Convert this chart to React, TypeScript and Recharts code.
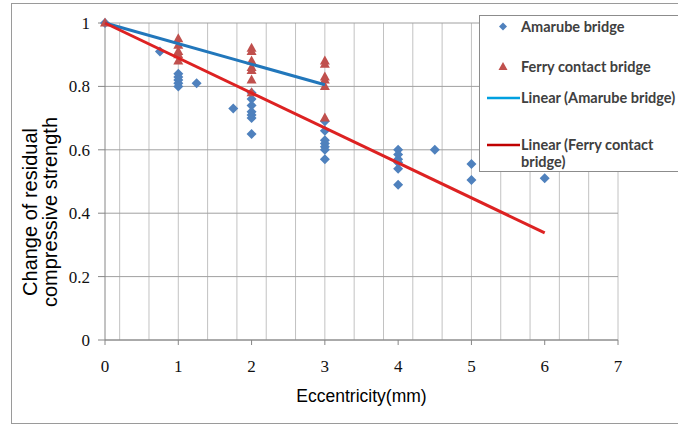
import React from "react";
import { ScatterChart, Scatter, XAxis, YAxis, ZAxis, CartesianGrid, Legend, Label } from "recharts";

// Amarube bridge measurements (eccentricity in mm, relative strength)
const amarubeEcc = [0, 0.75, 1, 1, 1, 1, 1, 1.25, 1.75, 2, 2, 2, 2, 2, 2, 2, 3, 3, 3, 3, 3, 3, 3, 4, 4, 4, 4, 4, 4, 4.5, 5, 5, 6];
const amarubeStrength = [
  1.0, 0.91, 0.84, 0.83, 0.82, 0.81, 0.8, 0.81, 0.73, 0.78, 0.76, 0.74, 0.72, 0.71, 0.7, 0.65, 0.69, 0.66, 0.63, 0.62,
  0.61, 0.6, 0.57, 0.6, 0.585, 0.57, 0.56, 0.54, 0.49, 0.6, 0.555, 0.505, 0.51,
];

// Ferry contact bridge measurements
const ferryEcc = [0, 1, 1, 1, 1, 1, 2, 2, 2, 2, 2, 2, 2, 3, 3, 3, 3, 3, 3];
const ferryStrength = [1.0, 0.95, 0.93, 0.91, 0.9, 0.88, 0.92, 0.91, 0.88, 0.86, 0.85, 0.82, 0.78, 0.88, 0.87, 0.83, 0.82, 0.8, 0.7];

// trendline end points as drawn in the picture
const amarubeTrendEcc = [0, 3];
const amarubeTrendStrength = [1.0, 0.805];
const ferryTrendEcc = [0, 6];
const ferryTrendStrength = [1.0, 0.338];

const xTicks = [0, 1, 2, 3, 4, 5, 6, 7];
const yTicks = [0, 0.2, 0.4, 0.6, 0.8, 1];
const xGridValues = [
  0.2, 0.4, 0.6, 0.8, 1, 1.2, 1.4, 1.6, 1.8, 2, 2.2, 2.4, 2.6, 2.8, 3, 3.2, 3.4, 3.6, 3.8, 4, 4.2, 4.4, 4.6, 4.8, 5,
  5.2, 5.4, 5.6, 5.8, 6, 6.2, 6.4, 6.6, 6.8, 7,
];

const toPoints = (xs: number[], ys: number[]) => xs.map((x, i) => ({ x, y: ys[i] }));

const amarubeData = toPoints(amarubeEcc, amarubeStrength);
const ferryData = toPoints(ferryEcc, ferryStrength);
const amarubeTrend = toPoints(amarubeTrendEcc, amarubeTrendStrength);
const ferryTrend = toPoints(ferryTrendEcc, ferryTrendStrength);

const BLUE = "#4f81bd";
const RED = "#c0504d";
const BLUE_LINE = "#2277bb";
const RED_LINE = "#dd2222";

const tickFont = { fontFamily: "'Liberation Serif', serif", fontSize: 17, fill: "#111" };

// excel-style square diamond and triangle markers
const DiamondMarker = (props: any) => {
  const { cx, cy } = props;
  return <path d={`M${cx} ${cy - 5}L${cx + 5} ${cy}L${cx} ${cy + 5}L${cx - 5} ${cy}Z`} fill={BLUE} />;
};

const TriangleMarker = (props: any) => {
  const { cx, cy } = props;
  return <path d={`M${cx} ${cy - 5.5}L${cx + 5} ${cy + 3.5}L${cx - 5} ${cy + 3.5}Z`} fill={RED} />;
};

const YTitle = (props: any) => {
  const cy = props.viewBox.y + 189;
  const style = { fontFamily: "'Liberation Sans', Arial, sans-serif", fontSize: 20, fill: "#000" };
  return (
    <g>
      <text x={37} y={cy} transform={`rotate(-90 37 ${cy})`} textAnchor="middle" style={style}>
        Change of residual
      </text>
      <text x={57} y={cy} transform={`rotate(-90 57 ${cy})`} textAnchor="middle" style={style}>
        compressive strength
      </text>
    </g>
  );
};

const LegendBox = () => {
  const txt = { fontFamily: "Lato, sans-serif", fontSize: 14.5, fontWeight: 700, fill: "#404040" };
  return (
    <svg width={205} height={157} style={{ display: "block" }}>
      <rect x={0.5} y={0.5} width={210} height={156} fill="#fff" stroke="#8c8c8c" />
      <path d="M24 7.5 L28 11.5 L24 15.5 L20 11.5 Z" fill={BLUE} />
      <text x={42} y={17} style={txt}>Amarube bridge</text>
      <path d="M24 47 L28.5 55 L19.5 55 Z" fill={RED} />
      <text x={42} y={57} style={txt}>Ferry contact bridge</text>
      <line x1={8} y1={83} x2={41} y2={83} stroke="#00a0e0" strokeWidth={2.5} />
      <text x={42} y={88} style={txt}>Linear (Amarube bridge)</text>
      <line x1={8} y1={130} x2={41} y2={130} stroke="#c00000" strokeWidth={2.5} />
      <text x={42} y={135} style={txt}>Linear (Ferry contact</text>
      <text x={42} y={152} style={txt}>bridge)</text>
    </svg>
  );
};

const App = () => {
  return (
    <div style={{ position: "absolute", left: 0, top: 0, width: 678, height: 425, overflow: "hidden", background: "#fff" }}>
      <div
        style={{
          position: "absolute",
          left: 11,
          top: 3,
          width: 680,
          height: 419,
          border: "1px solid #9a9a9a",
          pointerEvents: "none",
        }}
      />
      <ScatterChart width={678} height={425} margin={{ top: 23, right: 60, left: 0, bottom: 0 }}>
        <CartesianGrid horizontal={false} verticalValues={xGridValues} stroke="#c2c2c2" strokeWidth={1} />
        <CartesianGrid vertical={false} stroke="#a0a0a0" strokeWidth={1} />
        <XAxis
          type="number"
          dataKey="x"
          domain={[0, 7]}
          ticks={xTicks}
          height={85}
          tickSize={5}
          tickMargin={15}
          stroke="#868686"
          tick={tickFont}
          tickLine={{ stroke: "#868686" }}
        >
          <Label
            value="Eccentricity(mm)"
            position="insideTop"
            offset={50}
            style={{ fontFamily: "'Liberation Sans', Arial, sans-serif", fontSize: 17.5, fill: "#000" }}
          />
        </XAxis>
        <YAxis
          type="number"
          dataKey="y"
          domain={[0, 1]}
          ticks={yTicks}
          width={105}
          tickSize={7}
          tickMargin={8}
          stroke="#868686"
          tick={tickFont}
          tickFormatter={(v: number) => String(v)}
          label={{ content: YTitle }}
        />
        <ZAxis range={[48, 48]} />
        <Legend
          layout="horizontal"
          verticalAlign="middle"
          align="center"
          content={LegendBox}
          wrapperStyle={{ position: "absolute", left: 479, top: 15, width: 205, height: 157 }}
        />
        <Scatter name="Amarube bridge" data={amarubeData} shape={DiamondMarker} isAnimationActive={false} />
        <Scatter name="Ferry contact bridge" data={ferryData} shape={TriangleMarker} isAnimationActive={false} />
        <Scatter
          name="Linear (Amarube bridge)"
          data={amarubeTrend}
          line={{ stroke: BLUE_LINE, strokeWidth: 3 }}
          shape={() => <g />}
          isAnimationActive={false}
        />
        <Scatter
          name="Linear (Ferry contact bridge)"
          data={ferryTrend}
          line={{ stroke: RED_LINE, strokeWidth: 3 }}
          shape={() => <g />}
          isAnimationActive={false}
        />
      </ScatterChart>
    </div>
  );
};

export default App;
